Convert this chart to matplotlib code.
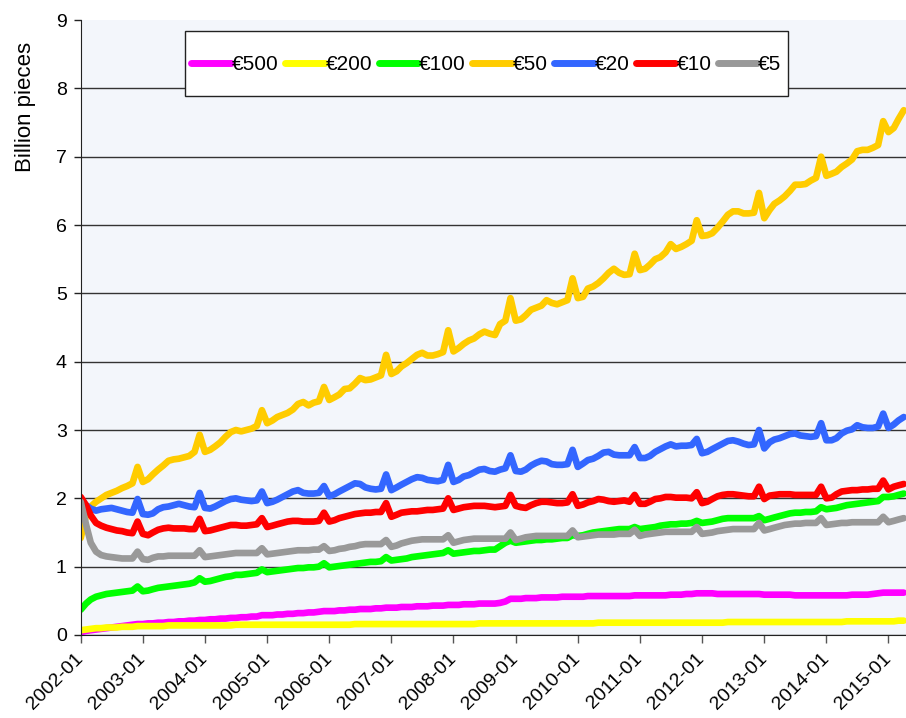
import matplotlib
matplotlib.use('Agg')
import matplotlib.pyplot as plt
import pandas as pd
from matplotlib.patches import Rectangle

plt.rcParams['font.family'] = ['Liberation Sans', 'DejaVu Sans']

# monthly stock of banknotes in circulation, billion pieces, 2002-01 .. 2015-04
eur500 = [
    0.04, 0.06, 0.07, 0.08, 0.09, 0.10, 0.11, 0.12, 0.13, 0.14, 0.15, 0.16,
    0.16, 0.17, 0.17, 0.18, 0.18, 0.19, 0.19, 0.20, 0.20, 0.21, 0.21, 0.22,
    0.22, 0.23, 0.23, 0.24, 0.24, 0.25, 0.25, 0.26, 0.26, 0.27, 0.27, 0.29,
    0.29, 0.29, 0.30, 0.30, 0.31, 0.31, 0.32, 0.32, 0.33, 0.33, 0.34, 0.35,
    0.35, 0.35, 0.36, 0.36, 0.37, 0.37, 0.38, 0.38, 0.38, 0.39, 0.39, 0.40,
    0.40, 0.40, 0.41, 0.41, 0.41, 0.42, 0.42, 0.42, 0.43, 0.43, 0.43, 0.44,
    0.44, 0.44, 0.45, 0.45, 0.45, 0.46, 0.46, 0.46, 0.46, 0.47, 0.49, 0.53,
    0.53, 0.53, 0.54, 0.54, 0.54, 0.55, 0.55, 0.55, 0.55, 0.56, 0.56, 0.56,
    0.56, 0.56, 0.57, 0.57, 0.57, 0.57, 0.57, 0.57, 0.57, 0.57, 0.57, 0.58,
    0.58, 0.58, 0.58, 0.58, 0.58, 0.58, 0.59, 0.59, 0.59, 0.60, 0.60, 0.61,
    0.61, 0.61, 0.61, 0.60, 0.60, 0.60, 0.60, 0.60, 0.60, 0.60, 0.60, 0.60,
    0.59, 0.59, 0.59, 0.59, 0.59, 0.59, 0.58, 0.58, 0.58, 0.58, 0.58, 0.58,
    0.58, 0.58, 0.58, 0.58, 0.58, 0.59, 0.59, 0.59, 0.59, 0.60, 0.61, 0.62,
    0.62, 0.62, 0.62, 0.62,
]
eur200 = [
    0.07, 0.08, 0.09, 0.10, 0.10, 0.11, 0.11, 0.11, 0.12, 0.12, 0.12, 0.13,
    0.13, 0.13, 0.13, 0.13, 0.13, 0.14, 0.14, 0.14, 0.14, 0.14, 0.14, 0.14,
    0.14, 0.14, 0.14, 0.14, 0.14, 0.14, 0.15, 0.15, 0.15, 0.15, 0.15, 0.15,
    0.15, 0.15, 0.15, 0.15, 0.15, 0.15, 0.15, 0.15, 0.15, 0.15, 0.15, 0.15,
    0.15, 0.15, 0.15, 0.15, 0.15, 0.16, 0.16, 0.16, 0.16, 0.16, 0.16, 0.16,
    0.16, 0.16, 0.16, 0.16, 0.16, 0.16, 0.16, 0.16, 0.16, 0.16, 0.16, 0.16,
    0.16, 0.16, 0.16, 0.16, 0.16, 0.17, 0.17, 0.17, 0.17, 0.17, 0.17, 0.17,
    0.17, 0.17, 0.17, 0.17, 0.17, 0.17, 0.17, 0.17, 0.17, 0.17, 0.17, 0.17,
    0.17, 0.17, 0.17, 0.17, 0.18, 0.18, 0.18, 0.18, 0.18, 0.18, 0.18, 0.18,
    0.18, 0.18, 0.18, 0.18, 0.18, 0.18, 0.18, 0.18, 0.18, 0.18, 0.18, 0.18,
    0.18, 0.18, 0.18, 0.18, 0.18, 0.19, 0.19, 0.19, 0.19, 0.19, 0.19, 0.19,
    0.19, 0.19, 0.19, 0.19, 0.19, 0.19, 0.19, 0.19, 0.19, 0.19, 0.19, 0.19,
    0.19, 0.19, 0.19, 0.19, 0.20, 0.20, 0.20, 0.20, 0.20, 0.20, 0.20, 0.20,
    0.20, 0.20, 0.21, 0.21,
]
eur100 = [
    0.37, 0.46, 0.52, 0.56, 0.58, 0.60, 0.61, 0.62, 0.63, 0.64, 0.65, 0.71,
    0.64, 0.65, 0.67, 0.69, 0.70, 0.71, 0.72, 0.73, 0.74, 0.75, 0.77, 0.83,
    0.78, 0.79, 0.81, 0.83, 0.85, 0.86, 0.88, 0.88, 0.89, 0.90, 0.91, 0.96,
    0.92, 0.93, 0.94, 0.95, 0.96, 0.97, 0.98, 0.98, 0.99, 0.99, 1.00, 1.05,
    0.99, 1.00, 1.01, 1.02, 1.03, 1.04, 1.05, 1.06, 1.07, 1.07, 1.08, 1.14,
    1.09, 1.10, 1.11, 1.12, 1.14, 1.15, 1.16, 1.17, 1.18, 1.19, 1.20, 1.24,
    1.19, 1.20, 1.21, 1.22, 1.23, 1.23, 1.24, 1.25, 1.25, 1.30, 1.35, 1.38,
    1.35, 1.36, 1.37, 1.38, 1.39, 1.39, 1.40, 1.40, 1.41, 1.42, 1.42, 1.46,
    1.45, 1.46, 1.48, 1.50, 1.51, 1.52, 1.53, 1.54, 1.55, 1.55, 1.55, 1.58,
    1.55, 1.56, 1.57, 1.58, 1.60, 1.61, 1.62, 1.62, 1.63, 1.63, 1.64, 1.67,
    1.64, 1.65, 1.66, 1.68, 1.70, 1.71, 1.71, 1.71, 1.71, 1.71, 1.71, 1.74,
    1.68, 1.70, 1.72, 1.74, 1.76, 1.78, 1.79, 1.79, 1.80, 1.80, 1.81, 1.87,
    1.84, 1.85, 1.86, 1.88, 1.90, 1.91, 1.92, 1.93, 1.94, 1.95, 1.96, 2.02,
    2.02, 2.03, 2.05, 2.07,
]
eur50 = [
    1.42, 1.75, 1.88, 1.95, 2.00, 2.05, 2.08, 2.11, 2.15, 2.18, 2.22, 2.46,
    2.24, 2.28, 2.35, 2.42, 2.48, 2.55, 2.57, 2.58, 2.60, 2.62, 2.68, 2.93,
    2.68, 2.71, 2.76, 2.82, 2.90, 2.97, 3.00, 2.98, 3.00, 3.02, 3.06, 3.29,
    3.10, 3.14, 3.19, 3.22, 3.25, 3.30, 3.38, 3.41, 3.36, 3.40, 3.42, 3.63,
    3.44, 3.48, 3.52, 3.60, 3.61, 3.68, 3.76, 3.73, 3.74, 3.77, 3.80, 4.10,
    3.82, 3.86, 3.93, 3.98, 4.04, 4.10, 4.13, 4.09, 4.09, 4.11, 4.14, 4.46,
    4.15, 4.20, 4.26, 4.31, 4.34, 4.40, 4.44, 4.41, 4.39, 4.55, 4.60, 4.93,
    4.60, 4.62, 4.68, 4.76, 4.79, 4.82, 4.90, 4.86, 4.84, 4.87, 4.90, 5.22,
    4.93, 4.95, 5.07, 5.10, 5.15, 5.22, 5.30, 5.36, 5.30, 5.27, 5.28, 5.58,
    5.34, 5.36, 5.42, 5.50, 5.53, 5.60, 5.72, 5.65, 5.68, 5.72, 5.77, 6.07,
    5.84, 5.85, 5.88, 5.96, 6.05, 6.15, 6.20, 6.20, 6.17, 6.17, 6.18, 6.47,
    6.10, 6.22, 6.31, 6.36, 6.42, 6.50, 6.59, 6.59, 6.60, 6.65, 6.69, 7.00,
    6.72, 6.75, 6.78, 6.85, 6.90, 6.96, 7.08, 7.10, 7.10, 7.13, 7.17, 7.52,
    7.36, 7.42, 7.55, 7.68,
]
eur20 = [
    1.97, 1.90, 1.85, 1.82, 1.84, 1.85, 1.86, 1.84, 1.82, 1.80, 1.79, 1.99,
    1.77, 1.76, 1.78, 1.84, 1.87, 1.88, 1.90, 1.92, 1.90, 1.88, 1.87, 2.08,
    1.86, 1.85, 1.88, 1.92, 1.96, 1.99, 2.00, 1.98, 1.97, 1.96, 1.97, 2.10,
    1.93, 1.95, 1.98, 2.02, 2.06, 2.10, 2.12, 2.08, 2.07, 2.07, 2.08, 2.18,
    2.03, 2.06, 2.10, 2.14, 2.18, 2.22, 2.21, 2.16, 2.14, 2.13, 2.14, 2.35,
    2.12, 2.16, 2.20, 2.24, 2.28, 2.31, 2.30, 2.27, 2.26, 2.25, 2.27, 2.49,
    2.24, 2.27, 2.32, 2.34, 2.38, 2.42, 2.43, 2.40, 2.39, 2.42, 2.44, 2.63,
    2.40, 2.39, 2.42, 2.48, 2.52, 2.55, 2.54, 2.50, 2.49, 2.49, 2.50, 2.71,
    2.46, 2.51, 2.56, 2.58, 2.62, 2.67, 2.68, 2.64, 2.63, 2.63, 2.63, 2.75,
    2.59, 2.59, 2.62, 2.68, 2.72, 2.76, 2.79, 2.76, 2.77, 2.77, 2.78, 2.87,
    2.66, 2.68, 2.72, 2.76, 2.80, 2.84, 2.85, 2.83, 2.80, 2.78, 2.79, 3.00,
    2.73, 2.82, 2.86, 2.88, 2.91, 2.94, 2.95, 2.92, 2.91, 2.90, 2.91, 3.10,
    2.85, 2.85, 2.88, 2.95, 2.99, 3.01, 3.07, 3.04, 3.03, 3.03, 3.05, 3.24,
    3.03, 3.08, 3.14, 3.19,
]
eur10 = [
    2.02, 1.90, 1.75, 1.64, 1.60, 1.57, 1.55, 1.53, 1.52, 1.50, 1.49, 1.66,
    1.48, 1.46, 1.50, 1.54, 1.56, 1.57, 1.56, 1.56, 1.56, 1.55, 1.55, 1.70,
    1.52, 1.53, 1.55, 1.57, 1.59, 1.61, 1.61, 1.60, 1.60, 1.61, 1.62, 1.71,
    1.58, 1.60, 1.62, 1.64, 1.66, 1.67, 1.67, 1.66, 1.66, 1.66, 1.67, 1.79,
    1.66, 1.68, 1.71, 1.73, 1.75, 1.77, 1.78, 1.79, 1.79, 1.80, 1.80, 1.93,
    1.73, 1.76, 1.79, 1.80, 1.81, 1.81, 1.82, 1.83, 1.83, 1.84, 1.85, 2.00,
    1.83, 1.85, 1.87, 1.88, 1.89, 1.89, 1.89, 1.88, 1.87, 1.88, 1.89, 2.05,
    1.89, 1.87, 1.86, 1.90, 1.93, 1.95, 1.95, 1.94, 1.93, 1.93, 1.94, 2.06,
    1.89, 1.91, 1.94, 1.96, 1.99, 1.98, 1.96, 1.95, 1.96, 1.97, 1.95, 2.05,
    1.92, 1.92, 1.95, 1.99, 2.00, 2.02, 2.02, 2.01, 2.01, 2.01, 2.00, 2.09,
    1.93, 1.95, 1.99, 2.03, 2.05, 2.06, 2.06, 2.05, 2.04, 2.03, 2.03, 2.17,
    1.99, 2.04, 2.05, 2.06, 2.06, 2.06, 2.05, 2.05, 2.05, 2.05, 2.05, 2.17,
    2.00, 2.01, 2.06, 2.10, 2.11, 2.12, 2.12, 2.13, 2.13, 2.14, 2.14, 2.26,
    2.13, 2.17, 2.19, 2.21,
]
eur5 = [
    1.95, 1.62, 1.35, 1.22, 1.17, 1.15, 1.14, 1.13, 1.12, 1.12, 1.12, 1.22,
    1.11, 1.10, 1.13, 1.15, 1.15, 1.16, 1.16, 1.16, 1.16, 1.16, 1.16, 1.24,
    1.14, 1.15, 1.16, 1.17, 1.18, 1.19, 1.20, 1.20, 1.20, 1.20, 1.20, 1.27,
    1.18, 1.19, 1.20, 1.21, 1.22, 1.23, 1.24, 1.24, 1.24, 1.25, 1.25, 1.30,
    1.23, 1.24, 1.26, 1.27, 1.29, 1.30, 1.32, 1.33, 1.33, 1.33, 1.33, 1.39,
    1.29, 1.31, 1.34, 1.36, 1.38, 1.39, 1.40, 1.40, 1.40, 1.40, 1.40, 1.46,
    1.35, 1.37, 1.39, 1.40, 1.41, 1.41, 1.41, 1.41, 1.41, 1.41, 1.41, 1.50,
    1.39, 1.41, 1.43, 1.44, 1.45, 1.45, 1.45, 1.45, 1.45, 1.45, 1.45, 1.53,
    1.43, 1.44, 1.45, 1.46, 1.47, 1.47, 1.47, 1.47, 1.48, 1.48, 1.48, 1.54,
    1.45, 1.47, 1.48, 1.49, 1.50, 1.51, 1.51, 1.51, 1.51, 1.51, 1.51, 1.58,
    1.48, 1.49, 1.50, 1.52, 1.53, 1.54, 1.55, 1.55, 1.55, 1.55, 1.55, 1.64,
    1.53, 1.55, 1.57, 1.59, 1.61, 1.62, 1.63, 1.63, 1.64, 1.64, 1.64, 1.71,
    1.61, 1.62, 1.63, 1.64, 1.64, 1.65, 1.65, 1.65, 1.65, 1.65, 1.65, 1.73,
    1.65, 1.67, 1.69, 1.71,
]

series_labels = ['€500', '€200', '€100', '€50', '€20', '€10', '€5']
series_colors = ['#FF00FF', '#FFFF00', '#00FF00', '#FFCC00', '#3366FF', '#FF0000', '#999999']
x_tick_labels = ['2002-01', '2003-01', '2004-01', '2005-01', '2006-01', '2007-01', '2008-01',
                 '2009-01', '2010-01', '2011-01', '2012-01', '2013-01', '2014-01', '2015-01']
y_ticks = [0, 1, 2, 3, 4, 5, 6, 7, 8, 9]

dates = pd.date_range('2002-01-01', periods=len(eur50), freq='MS')
tick_dates = pd.to_datetime(x_tick_labels, format='%Y-%m')

fig = plt.figure(figsize=(9.06, 7.18), dpi=100)
ax = fig.add_axes([0.0891, 0.1156, 0.9109, 0.8565])
ax.set_facecolor('#F3F6FB')

all_series = [eur500, eur200, eur100, eur50, eur20, eur10, eur5]
for vals, lab, col in zip(all_series, series_labels, series_colors):
    ax.plot(dates, vals, color=col, lw=4.8, label=lab,
            solid_joinstyle='round', solid_capstyle='round')

ax.set_xlim(pd.Timestamp('2002-01-01'), pd.Timestamp('2015-04-14'))
ax.set_ylim(0, 9)
ax.set_yticks(y_ticks)
ax.set_yticklabels([str(v) for v in y_ticks], fontsize=14)
ax.set_xticks(tick_dates)
ax.set_xticklabels(x_tick_labels, rotation=45, ha='right', va='center',
                   rotation_mode='anchor', fontsize=14)

ax.yaxis.grid(True, color='#333333', lw=1.0)
ax.set_axisbelow(True)
ax.get_ygridlines()[-1].set_visible(False)
for s in ['top', 'right']:
    ax.spines[s].set_visible(False)
ax.spines['left'].set_color('#222222')
ax.spines['bottom'].set_color('#222222')
ax.tick_params(axis='y', length=5, width=1, color='#222222', pad=5)
ax.tick_params(axis='x', length=6, width=1, color='#555555', pad=9)

fig.text(25 / 906, 1 - 107 / 718, 'Billion pieces', rotation=90,
         ha='center', va='center', fontsize=16)

# legend box
box = Rectangle((185 / 906, 1 - 96 / 718), (788 - 185) / 906, 65 / 718,
                transform=fig.transFigure, facecolor='white',
                edgecolor='#222222', lw=1.0, zorder=4)
ax.add_artist(box)
leg = ax.legend(loc='center', bbox_to_anchor=((185 + 788) / 2 / 906, 1 - 65 / 718),
                bbox_transform=fig.transFigure, ncol=7, frameon=False,
                handlelength=1.9, handletextpad=0.05, columnspacing=0.3,
                prop={'size': 15})
leg.set_zorder(5)
for h in leg.get_lines():
    h.set_linewidth(5)

fig.savefig('out.png', dpi=100)
